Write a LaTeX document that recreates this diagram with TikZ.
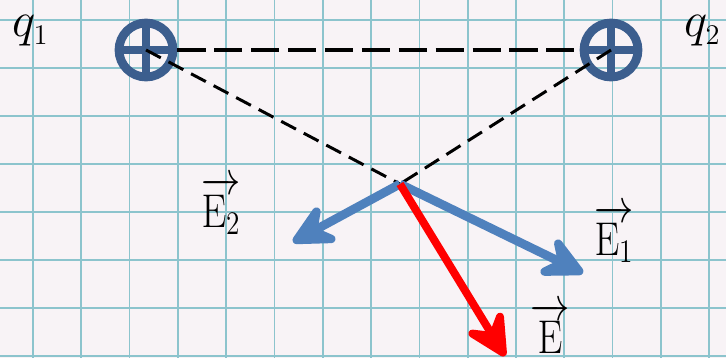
\documentclass[tikz,border=0pt]{standalone}
\usepackage{amsmath}
\usetikzlibrary{arrows.meta}
\definecolor{paper}{RGB}{248,243,246}
\definecolor{gridline}{RGB}{140,196,205}
\definecolor{chargeblue}{RGB}{60,94,142}
\definecolor{fieldblue}{RGB}{79,129,189}
\newcommand{\veclabel}[1]{\scalebox{1.08}[1.3]{$\overrightarrow{#1}$}}
\newcommand{\chargelabel}[1]{\scalebox{1.35}{$#1$}}
\begin{document}
\begin{tikzpicture}[x=0.02cm, y=-0.02cm,
    charge/.style={circle, draw=chargeblue, line width=5pt, minimum size=1.08cm, inner sep=0pt,
        path picture={\draw[chargeblue, line width=4.2pt]
            (path picture bounding box.north) -- (path picture bounding box.south)
            (path picture bounding box.west) -- (path picture bounding box.east);}},
    joinline/.style={black, line width=1.7pt, dash pattern=on 9.5pt off 5pt},
    field/.style={-{Stealth[length=31pt, width=31pt, inset=12pt, round]}, line width=5pt, fieldblue},
    total/.style={field, red, line width=4.5pt},
    lbl/.style={anchor=base west, inner sep=0pt, font=\huge},
]
\useasboundingbox (0,0) rectangle (726,358);
\fill[paper] (0,0) rectangle (726,358);
\foreach \i in {0,...,14}
    \draw[gridline, line width=1pt] ({33+48.3*\i},0) -- ({33+48.3*\i},358);
\foreach \j in {0,...,7}
    \draw[gridline, line width=1pt] (0,{20+48*\j}) -- (726,{20+48*\j});

\node[charge] (q1) at (146,50) {};
\node[charge] (q2) at (611,50) {};
\coordinate (P) at (400,184);
\coordinate (e2) at (293,242);
\coordinate (e1) at (583,273);
\coordinate (e) at (505,356);

\draw[joinline, line width=2.3pt, dash pattern=on 16pt off 5pt] (q1.east) -- (q2.west);
\draw[joinline] (q1.center) -- (P);
\draw[joinline] (q2.center) -- (P);

\draw[field] (P) -- (e2);
\draw[field] (P) -- (e1);
\draw[total] (P) -- (e);

\node[lbl] (q1lab) at (12,37) {\chargelabel{q_{\scriptscriptstyle 1}}};
\node[lbl] (q2lab) at (684,37) {\chargelabel{q_{\scriptscriptstyle 2}}};
\node[lbl] (E2lab) at (201,227) {\veclabel{\mathrm{E}_2}};
\node[lbl] (E1lab) at (594,255) {\veclabel{\mathrm{E}_1}};
\node[lbl] (Elab) at (530,353) {\veclabel{\mathrm{E}}};
\end{tikzpicture}
\end{document}
